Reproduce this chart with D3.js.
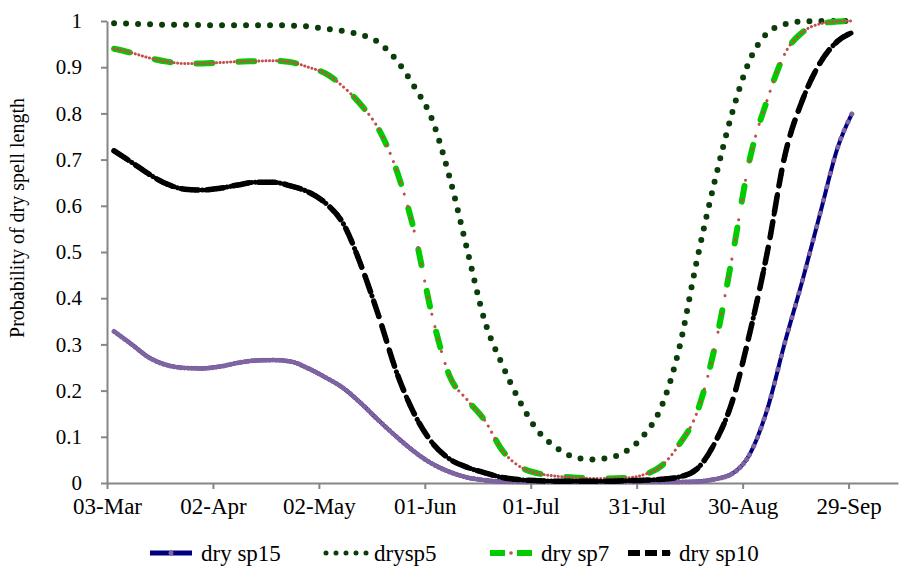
<!DOCTYPE html>
<html>
<head>
<meta charset="utf-8">
<script src="https://cdn.jsdelivr.net/npm/d3@7"></script>
<style>
  body { margin: 0; background: #fff; }
</style>
</head>
<body>
<div id="chart"></div>
<script>
// dates of the plotted values (year only used for parsing)
const dates = ["05-Mar","10-Mar","15-Mar","20-Mar","25-Mar","30-Mar","04-Apr","09-Apr","14-Apr","19-Apr",
  "24-Apr","29-Apr","04-May","09-May","14-May","19-May","24-May","29-May","03-Jun","08-Jun",
  "13-Jun","18-Jun","23-Jun","28-Jun","03-Jul","08-Jul","13-Jul","18-Jul","23-Jul","28-Jul",
  "02-Aug","07-Aug","12-Aug","17-Aug","22-Aug","27-Aug","01-Sep","06-Sep","11-Sep","16-Sep",
  "21-Sep","26-Sep","30-Sep"];

const drySp15 = [0.328,0.300,0.271,0.255,0.249,0.248,0.252,0.260,0.265,0.266,
  0.263,0.248,0.228,0.205,0.172,0.135,0.100,0.068,0.042,0.024,
  0.012,0.006,0.003,0.002,0.002,0.002,0.002,0.002,0.002,0.002,
  0.002,0.002,0.002,0.003,0.008,0.020,0.062,0.160,0.305,0.440,
  0.585,0.728,0.800];

const drySp5 = [0.995,0.994,0.993,0.992,0.992,0.991,0.991,0.991,0.991,0.991,
  0.990,0.988,0.983,0.978,0.970,0.953,0.915,0.858,0.788,0.662,
  0.505,0.350,0.255,0.175,0.113,0.078,0.057,0.051,0.054,0.069,
  0.103,0.165,0.290,0.480,0.650,0.800,0.915,0.974,0.993,0.999,
  1.000,1.000,1.000];

const drySp7 = [0.940,0.931,0.920,0.912,0.908,0.908,0.910,0.912,0.913,0.914,
  0.911,0.900,0.886,0.857,0.818,0.765,0.677,0.545,0.365,0.232,
  0.180,0.135,0.070,0.035,0.021,0.015,0.012,0.010,0.010,0.011,
  0.018,0.037,0.083,0.151,0.290,0.487,0.700,0.830,0.930,0.976,
  0.994,0.999,1.000];

const drySp10 = [0.719,0.694,0.668,0.647,0.636,0.634,0.638,0.645,0.651,0.651,
  0.643,0.630,0.605,0.560,0.470,0.360,0.240,0.150,0.088,0.052,
  0.034,0.022,0.012,0.007,0.005,0.004,0.004,0.004,0.004,0.005,
  0.006,0.008,0.013,0.030,0.085,0.175,0.324,0.500,0.710,0.830,
  0.910,0.957,0.975];

const xTickLabels = ["03-Mar","02-Apr","02-May","01-Jun","01-Jul","31-Jul","30-Aug","29-Sep"];
const yTicks = [0,0.1,0.2,0.3,0.4,0.5,0.6,0.7,0.8,0.9,1];
const seriesNames = ["dry sp15","drysp5","dry sp7","dry sp10"];
const yLabel = "Probability of dry spell length";

const FONT = "Liberation Serif";

var W = 902, H = 575;
var margin = {top: 21, right: 4, bottom: 92, left: 107},
    width = W - margin.left - margin.right,
    height = H - margin.top - margin.bottom;

const parseDay = d3.timeParse("%d-%b-%Y");
const parse = s => parseDay(s + "-2001");

var svg = d3.select("#chart")
  .append("svg")
    .attr("width", W)
    .attr("height", H);
var g = svg.append("g")
    .attr("transform", "translate(" + margin.left + "," + margin.top + ")");

var x = d3.scaleTime()
  .domain([parse("03-Mar"), parse("13-Oct")])
  .range([0, width]);
var y = d3.scaleLinear()
  .domain([0, 1])
  .range([height, 0]);

// axes
var xAxisG = g.append("g")
  .attr("transform", "translate(0," + height + ")")
  .call(d3.axisBottom(x)
    .tickValues(xTickLabels.map(parse))
    .tickFormat(d3.timeFormat("%d-%b"))
    .tickSizeInner(6).tickSizeOuter(0));
xAxisG.selectAll("text")
  .attr("y", 15)
  .style("font-family", FONT).style("font-size", "23px");

var yAxisG = g.append("g")
  .call(d3.axisLeft(y)
    .tickValues(yTicks)
    .tickFormat(d => String(d))
    .tickSizeInner(6).tickSizeOuter(0)
    .tickPadding(19));
yAxisG.selectAll("text")
  .style("font-family", FONT).style("font-size", "21px");

g.selectAll(".domain, .tick line").attr("stroke", "#868686").attr("stroke-width", 2);
g.selectAll(".tick text").attr("fill", "#000");

svg.append("text")
  .attr("transform", "translate(24,218) rotate(-90)")
  .attr("text-anchor", "middle")
  .style("font-family", FONT).style("font-size", "20px")
  .text(yLabel);

var line = d3.line()
  .x((d, i) => x(parse(dates[i])))
  .y(d => y(d))
  .curve(d3.curveMonotoneX);

// dash pattern that puts one marker per day along the line
function dailyDash(vals) {
  var pts = dates.map((d, i) => [x(parse(d)), y(vals[i])]);
  var arr = [];
  for (var i = 0; i < pts.length - 1; i++) {
    var days = Math.round((parse(dates[i + 1]) - parse(dates[i])) / 864e5);
    var len = Math.hypot(pts[i + 1][0] - pts[i][0], pts[i + 1][1] - pts[i][1]);
    var step = len / days;
    for (var k = 0; k < days; k++) arr.push(0.1, Math.max(step - 0.1, 0.01));
  }
  return arr.join(" ");
}

var plot = g.append("g");

// dry sp15: navy line, purple markers
plot.append("path").datum(drySp15)
  .attr("fill", "none").attr("stroke", "#000080").attr("stroke-width", 4)
  .attr("d", line);
plot.append("path").datum(drySp15)
  .attr("fill", "none").attr("stroke", "#8064a2").attr("stroke-width", 5)
  .attr("stroke-linecap", "round")
  .attr("stroke-dasharray", dailyDash(drySp15))
  .attr("d", line);

// drysp5: round dots
plot.append("path").datum(drySp5)
  .attr("fill", "none").attr("stroke", "#0b3d0b").attr("stroke-width", 6)
  .attr("stroke-linecap", "round").attr("stroke-dasharray", "0 12")
  .attr("d", line);

// dry sp7: green dashes, red markers
plot.append("path").datum(drySp7)
  .attr("fill", "none").attr("stroke", "#00cc00").attr("stroke-width", 6)
  .attr("stroke-linecap", "round").attr("stroke-dasharray", "16 26")
  .attr("d", line);
plot.append("path").datum(drySp7)
  .attr("fill", "none").attr("stroke", "#c0504d").attr("stroke-width", 3)
  .attr("stroke-linecap", "round")
  .attr("stroke-dasharray", dailyDash(drySp7))
  .attr("d", line);

// dry sp10: black dashes, black markers
plot.append("path").datum(drySp10)
  .attr("fill", "none").attr("stroke", "#000").attr("stroke-width", 5.5)
  .attr("stroke-linecap", "round").attr("stroke-dasharray", "16 10")
  .attr("d", line);
plot.append("path").datum(drySp10)
  .attr("fill", "none").attr("stroke", "#000").attr("stroke-width", 5)
  .attr("stroke-linecap", "round")
  .attr("stroke-dasharray", dailyDash(drySp10))
  .attr("d", line);

// legend
var legY = 553;
var leg = svg.append("g");
var legX = [150, 326, 490, 628];
var sampleW = 42;

function sample(i) {
  return leg.append("line")
    .attr("x1", legX[i]).attr("x2", legX[i] + sampleW)
    .attr("y1", legY).attr("y2", legY).attr("fill", "none");
}
sample(0).attr("stroke", "#000080").attr("stroke-width", 5);
leg.append("circle").attr("cx", legX[0] + sampleW / 2).attr("cy", legY).attr("r", 2.5).attr("fill", "#8064a2");

sample(1).attr("stroke", "#0b3d0b").attr("stroke-width", 5)
  .attr("stroke-linecap", "round").attr("stroke-dasharray", "0 10");

sample(2).attr("stroke", "#00cc00").attr("stroke-width", 6)
  .attr("stroke-dasharray", "15 12");
leg.append("circle").attr("cx", legX[2] + sampleW / 2).attr("cy", legY).attr("r", 1.8).attr("fill", "#c0504d");

sample(3).attr("stroke", "#000").attr("stroke-width", 6)
  .attr("stroke-dasharray", "12 5");
leg.append("circle").attr("cx", legX[3] + sampleW - 2).attr("cy", legY).attr("r", 2.5).attr("fill", "#000");

seriesNames.forEach(function(name, i) {
  leg.append("text")
    .attr("x", legX[i] + sampleW + (i == 1 ? 6 : 9))
    .attr("y", legY)
    .attr("dy", "0.33em")
    .style("font-family", FONT).style("font-size", "23px")
    .text(name);
});
</script>
</body>
</html>
